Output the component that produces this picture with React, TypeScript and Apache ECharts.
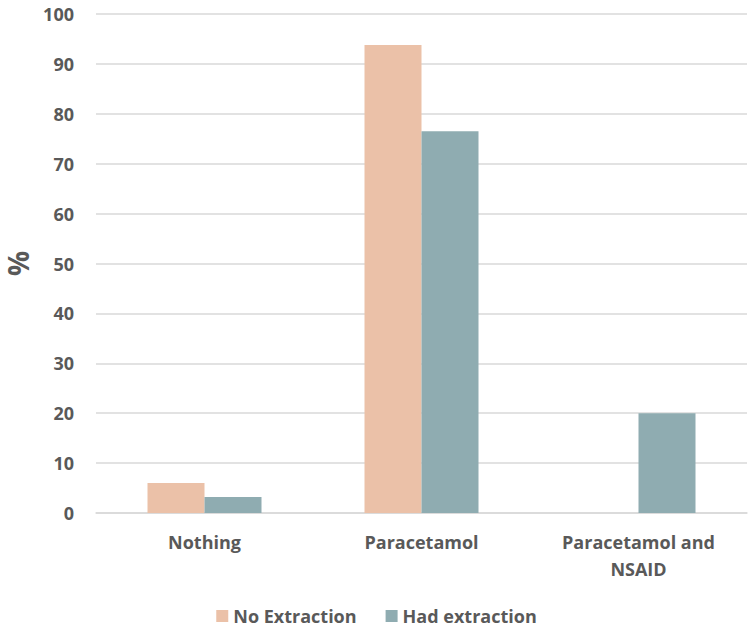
import React, { useEffect, useRef } from "react";
import * as echarts from "echarts";

const categories = ["Nothing", "Paracetamol", "Paracetamol and\nNSAID"];
const noExtraction = [6, 93.8, 0];
const hadExtraction = [3.2, 76.5, 20];
const seriesNames = ["No Extraction", "Had extraction"];

const FONT = "Open Sans";
const TEXT = "#595959";

export default function App() {
  const ref = useRef<HTMLDivElement>(null);
  useEffect(() => {
    const chart = echarts.init(ref.current!, null, { renderer: "svg" });
    chart.setOption({
      animation: false,
      backgroundColor: "#ffffff",
      textStyle: { fontFamily: FONT },
      grid: { left: 96, right: 6, top: 14, bottom: 116, outerBoundsMode: "none" },
      legend: {
        data: seriesNames,
        top: 607,
        left: "center",
        padding: 0,
        itemWidth: 12,
        itemHeight: 12,
        itemGap: 29,
        icon: "rect",
        textStyle: { color: TEXT, fontSize: 18, fontWeight: "bold", fontFamily: FONT },
      },
      xAxis: {
        type: "category",
        data: categories,
        axisLine: { show: true, lineStyle: { color: "#d9d9d9", width: 1.5 } },
        axisTick: { show: false },
        axisLabel: {
          color: TEXT,
          fontSize: 18,
          fontWeight: "bold",
          fontFamily: FONT,
          margin: 15,
          lineHeight: 27,
          interval: 0,
        },
      },
      yAxis: {
        type: "value",
        min: 0,
        max: 100,
        interval: 10,
        name: "%",
        nameLocation: "middle",
        nameRotate: 90,
        nameGap: 64,
        nameTextStyle: { color: TEXT, fontSize: 28, fontWeight: "bold", fontFamily: FONT },
        axisLine: { show: false },
        axisTick: { show: false },
        axisLabel: { color: TEXT, fontSize: 18, fontWeight: "bold", fontFamily: FONT, margin: 22 },
        splitLine: { lineStyle: { color: "#d9d9d9", width: 1.5 } },
      },
      series: [
        {
          name: seriesNames[0],
          type: "bar",
          data: noExtraction,
          barWidth: 57,
          barGap: "0%",
          itemStyle: { color: "#EBC1A8" },
        },
        {
          name: seriesNames[1],
          type: "bar",
          data: hadExtraction,
          barWidth: 57,
          barGap: "0%",
          itemStyle: { color: "#8FACB1" },
        },
      ],
    });
    return () => chart.dispose();
  }, []);
  return (
    <div
      ref={ref}
      style={{ position: "fixed", left: 0, top: 0, width: 753, height: 629 }}
    />
  );
}
